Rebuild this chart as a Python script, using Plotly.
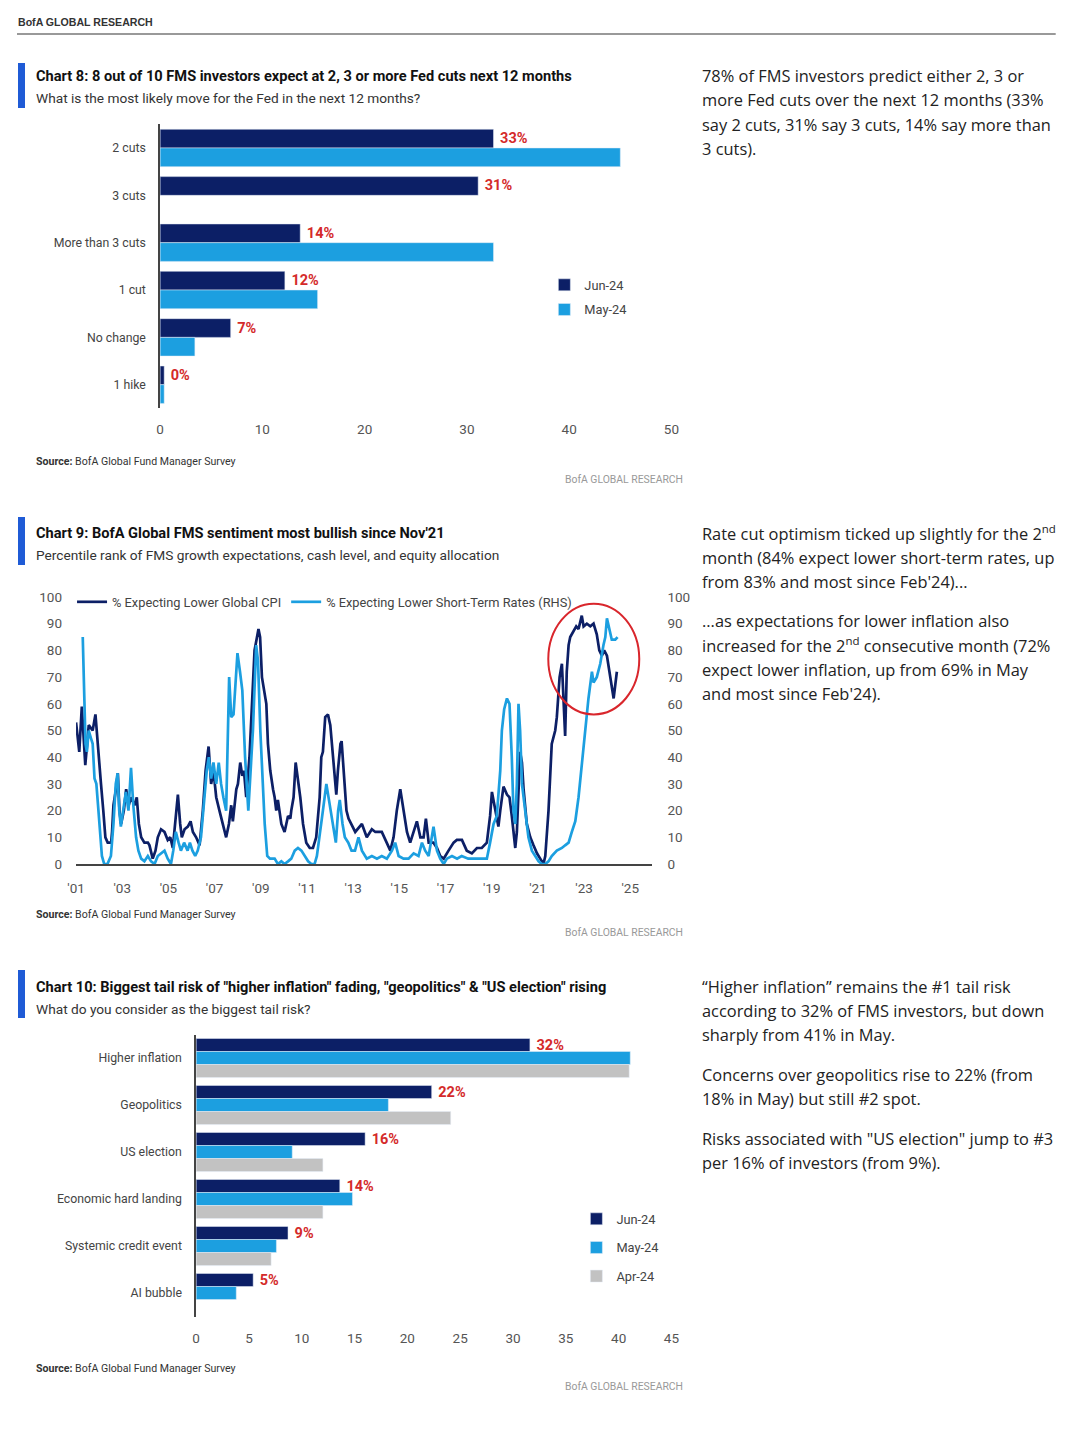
import plotly.graph_objects as go

W, H = 1080, 1455
# the returned picture shows the page inside a thin frame; positions below are given in
# reference-picture pixels and mapped to paper fractions
SX, OX, SY, OY = 0.9836, 9.0, 0.989, 8.0
def px(x): return ((x - OX) / SX) / W
def py(y): return 1 - ((y - OY) / SY) / H

NAVY = "#0c1f66"
CYAN = "#1c9fe0"
GREY = "#c2c2c2"
RED = "#d42a2a"
ACCENT = "#1f5bd6"
NARROW = "Roboto, sans-serif"
BODY = "Open Sans, Noto Sans, sans-serif"

# ---------------- Chart 8 data ----------------
fed_cats = ["2 cuts", "3 cuts", "More than 3 cuts", "1 cut", "No change", "1 hike"]
fed_jun = [32.6, 31.1, 13.7, 12.2, 6.9, 0.4]
fed_may = [45.0, None, 32.6, 15.4, 3.4, 0.4]
fed_labels = ["33%", "31%", "14%", "12%", "7%", "0%"]
fed_ticks = [0, 10, 20, 30, 40, 50]

# ---------------- Chart 9 data ----------------
cpi_year = [2001.00, 2001.14, 2001.25, 2001.40, 2001.55, 2001.72, 2001.84, 2001.97, 2002.08, 2002.18,
            2002.27, 2002.37, 2002.52, 2002.56, 2002.62, 2002.73, 2002.81, 2002.88, 2002.95, 2003.07,
            2003.17, 2003.28, 2003.38, 2003.53, 2003.63, 2003.72, 2003.82, 2003.96, 2004.11, 2004.18,
            2004.32, 2004.44, 2004.54, 2004.68, 2004.83, 2004.97, 2005.08, 2005.19, 2005.26, 2005.41,
            2005.51, 2005.58, 2005.70, 2005.84, 2005.96, 2006.06, 2006.20, 2006.35, 2006.49, 2006.61,
            2006.74, 2006.85, 2006.95, 2007.07, 2007.21, 2007.36, 2007.50, 2007.62, 2007.72, 2007.79,
            2007.94, 2008.01, 2008.11, 2008.20, 2008.27, 2008.37, 2008.51, 2008.62, 2008.73, 2008.90,
            2008.97, 2009.05, 2009.16, 2009.24, 2009.31, 2009.41, 2009.53, 2009.60, 2009.67, 2009.74,
            2009.89, 2010.03, 2010.18, 2010.28, 2010.32, 2010.42, 2010.51, 2010.61, 2010.71, 2010.83,
            2010.97, 2011.12, 2011.26, 2011.40, 2011.48, 2011.55, 2011.62, 2011.69, 2011.79, 2011.91,
            2012.01, 2012.13, 2012.21, 2012.27, 2012.34, 2012.45, 2012.50, 2012.59, 2012.71, 2012.80,
            2012.92, 2013.09, 2013.38, 2013.59, 2013.81, 2013.96, 2014.24, 2014.46, 2014.61, 2014.75,
            2014.89, 2015.04, 2015.18, 2015.33, 2015.47, 2015.62, 2015.76, 2015.91, 2016.05, 2016.15,
            2016.27, 2016.48, 2016.63, 2016.77, 2016.92, 2017.13, 2017.35, 2017.49, 2017.71, 2017.92,
            2018.14, 2018.36, 2018.57, 2018.79, 2018.93, 2019.01, 2019.11, 2019.22, 2019.29, 2019.37,
            2019.51, 2019.66, 2019.77, 2019.87, 2020.02, 2020.09, 2020.16, 2020.23, 2020.31, 2020.38,
            2020.52, 2020.67, 2020.81, 2020.96, 2021.10, 2021.24, 2021.32, 2021.46, 2021.60, 2021.75,
            2021.82, 2021.94, 2022.04, 2022.11, 2022.18, 2022.25, 2022.33, 2022.40, 2022.54, 2022.66,
            2022.76, 2022.90, 2022.98, 2023.12, 2023.27, 2023.41, 2023.55, 2023.66, 2023.77, 2023.87,
            2023.99, 2024.13, 2024.28, 2024.42]
cpi_val = [53, 42, 59, 37, 52, 50, 56, 40, 30, 20,
           10, 8, 8, 12, 22, 28, 34, 20, 15, 20,
           28, 22, 25, 22, 25, 15, 10, 8, 8, 7,
           2, 5, 10, 13, 12, 9, 10, 6, 12, 26,
           15, 10, 13, 14, 16, 12, 10, 7, 20, 35,
           44, 30, 35, 25, 20, 15, 10, 15, 22, 16,
           28, 30, 38, 33, 35, 25, 40, 60, 80, 88,
           85, 70, 65, 60, 45, 35, 28, 25, 20, 24,
           15, 12, 18, 17, 20, 25, 38, 32, 25, 15,
           8, 6, 6, 10, 20, 25, 40, 42, 55, 56,
           52, 40, 30, 26, 35, 45, 46, 35, 20, 17,
           15, 12, 15, 10, 13, 12, 12, 8, 5, 10,
           20, 28, 20, 12, 8, 12, 16, 10, 10, 17,
           8, 8, 6, 3, 2, 5, 8, 9, 9, 5,
           4, 6, 6, 8, 18, 27, 22, 16, 14, 20,
           29, 26, 25, 18, 6, 12, 25, 42, 38, 28,
           15, 10, 7, 4, 2, 0, 3, 20, 45, 50,
           55, 70, 75, 60, 48, 72, 82, 85, 87, 89,
           88, 93, 89, 90, 89, 90, 86, 80, 78, 80,
           78, 70, 62, 72]

rates_year = [2001.29, 2001.35, 2001.41, 2001.47, 2001.55, 2001.65, 2001.72, 2001.80, 2001.88, 2001.97,
              2002.04, 2002.12, 2002.22, 2002.36, 2002.51, 2002.62, 2002.72, 2002.80, 2002.87, 2002.94,
              2003.04, 2003.16, 2003.27, 2003.38, 2003.48, 2003.60, 2003.70, 2003.82, 2003.96, 2004.11,
              2004.25, 2004.40, 2004.54, 2004.68, 2004.83, 2004.97, 2005.11, 2005.21, 2005.32, 2005.44,
              2005.54, 2005.68, 2005.83, 2005.93, 2006.04, 2006.16, 2006.27, 2006.41, 2006.56, 2006.66,
              2006.75, 2006.85, 2006.95, 2007.07, 2007.18, 2007.28, 2007.38, 2007.50, 2007.63, 2007.72,
              2007.82, 2007.90, 2007.99, 2008.10, 2008.20, 2008.32, 2008.46, 2008.56, 2008.66, 2008.80,
              2008.88, 2008.98, 2009.08, 2009.17, 2009.28, 2009.40, 2009.60, 2009.74, 2009.89, 2010.03,
              2010.18, 2010.32, 2010.47, 2010.61, 2010.76, 2010.90, 2011.05, 2011.19, 2011.33, 2011.43,
              2011.55, 2011.69, 2011.84, 2011.99, 2012.13, 2012.25, 2012.35, 2012.42, 2012.54, 2012.64,
              2012.79, 2012.93, 2013.08, 2013.23, 2013.38, 2013.59, 2013.81, 2014.03, 2014.24, 2014.46,
              2014.68, 2014.82, 2014.97, 2015.18, 2015.40, 2015.62, 2015.83, 2015.98, 2016.12, 2016.27,
              2016.48, 2016.63, 2016.77, 2016.92, 2017.06, 2017.28, 2017.50, 2017.70, 2017.98, 2018.40,
              2018.79, 2018.93, 2019.08, 2019.22, 2019.37, 2019.44, 2019.54, 2019.66, 2019.77, 2019.87,
              2019.94, 2020.02, 2020.09, 2020.16, 2020.23, 2020.31, 2020.45, 2020.59, 2020.74, 2020.88,
              2021.03, 2021.17, 2021.32, 2021.46, 2021.60, 2021.82, 2022.04, 2022.18, 2022.33, 2022.47,
              2022.62, 2022.76, 2022.90, 2023.05, 2023.19, 2023.34, 2023.41, 2023.55, 2023.70, 2023.84,
              2023.92, 2023.99, 2024.10, 2024.20, 2024.35, 2024.45]
rates_val = [85, 60, 45, 42, 50, 47, 45, 32, 30, 20,
             10, 3, 0, 0, 3, 15, 30, 34, 20, 14,
             20, 27, 20, 36, 22, 10, 5, 2, 1, 3,
             1, 0, 3, 4, 5, 2, 0, 5, 12, 8,
             5, 8, 5, 8, 5, 3, 5, 10, 25, 35,
             40, 32, 38, 30, 38, 30, 25, 20, 70, 55,
             56, 68, 79, 72, 65, 40, 20, 35, 50, 82,
             76, 50, 30, 15, 3, 2, 2, 0, 1, 0,
             1, 2, 5, 6, 5, 3, 1, 0, 0, 3,
             10, 20, 30, 22, 15, 8, 20, 24, 15, 10,
             8, 5, 5, 10, 5, 2, 3, 2, 3, 2,
             5, 8, 3, 2, 2, 4, 3, 8, 5, 3,
             14, 5, 2, 0, 2, 3, 2, 3, 2, 2,
             2, 8, 15, 18, 35, 50, 58, 62, 60, 40,
             20, 15, 30, 60, 50, 30, 20, 10, 5, 3,
             1, 0, 0, 1, 3, 5, 6, 7, 8, 12,
             16, 25, 38, 50, 62, 72, 68, 70, 75, 82,
             85, 92, 88, 84, 84, 85]
year_ticks = [2001, 2003, 2005, 2007, 2009, 2011, 2013, 2015, 2017, 2019, 2021, 2023, 2025]
year_labels = ["'01", "'03", "'05", "'07", "'09", "'11", "'13", "'15", "'17", "'19", "'21", "'23", "'25"]
pct_ticks = [0, 10, 20, 30, 40, 50, 60, 70, 80, 90, 100]

# ---------------- Chart 10 data ----------------
risk_cats = ["Higher inflation", "Geopolitics", "US election", "Economic hard landing",
             "Systemic credit event", "AI bubble"]
risk_jun = [31.6, 22.3, 16.0, 13.6, 8.7, 5.4]
risk_may = [41.1, 18.2, 9.1, 14.8, 7.6, 3.8]
risk_apr = [41.0, 24.1, 12.0, 12.0, 7.1, None]
risk_labels = ["32%", "22%", "16%", "14%", "9%", "5%"]
risk_ticks = [0, 5, 10, 15, 20, 25, 30, 35, 40, 45]

fig = go.Figure()

lblfont = dict(color=RED, size=14.5, family=NARROW)

# Chart 8 bars
fig.add_trace(go.Bar(y=fed_cats, x=fed_jun, orientation="h", name="Jun-24", marker_color=NAVY,
                     width=0.395, offset=-0.395, text=fed_labels, textposition="outside",
                     textfont=lblfont, cliponaxis=False,
                     constraintext="none", texttemplate="\u00a0<b>%{text}</b>",
                     xaxis="x", yaxis="y", legend="legend", legendgroup="a"))
fig.add_trace(go.Bar(y=fed_cats, x=fed_may, orientation="h", name="May-24", marker_color=CYAN,
                     width=0.395, offset=0.0, xaxis="x", yaxis="y", legend="legend", legendgroup="b"))

# Chart 9 lines
fig.add_trace(go.Scatter(x=cpi_year, y=cpi_val, mode="lines", name="% Expecting Lower Global CPI",
                         line=dict(color=NAVY, width=2.7), xaxis="x2", yaxis="y2", legend="legend2"))
fig.add_trace(go.Scatter(x=rates_year, y=rates_val, mode="lines",
                         name="% Expecting Lower Short-Term Rates (RHS)",
                         line=dict(color=CYAN, width=2.7), xaxis="x2", yaxis="y3", legend="legend2"))

# Chart 10 bars
fig.add_trace(go.Bar(y=risk_cats, x=risk_jun, orientation="h", name="Jun-24", marker_color=NAVY,
                     width=0.277, offset=-0.415, text=risk_labels, textposition="outside",
                     textfont=lblfont, cliponaxis=False,
                     constraintext="none", texttemplate="\u00a0<b>%{text}</b>",
                     xaxis="x3", yaxis="y4", legend="legend3", legendgroup="c"))
fig.add_trace(go.Bar(y=risk_cats, x=risk_may, orientation="h", name="May-24", marker_color=CYAN,
                     width=0.277, offset=-0.138, xaxis="x3", yaxis="y4", legend="legend3", legendgroup="d"))
fig.add_trace(go.Bar(y=risk_cats, x=risk_apr, orientation="h", name="Apr-24", marker_color=GREY,
                     width=0.277, offset=0.139, xaxis="x3", yaxis="y4", legend="legend3", legendgroup="e"))

tickfont = dict(family=NARROW, size=13.5, color="#555")
catfont = dict(family=NARROW, size=12.3, color="#444")
legfont = dict(family=NARROW, size=12.8, color="#444")

fig.update_layout(
    width=W, height=H, margin=dict(l=0, r=0, t=0, b=0),
    paper_bgcolor="white", plot_bgcolor="white", showlegend=True,
    # chart 8
    xaxis=dict(domain=[px(160), px(671)], range=[0, 50], tickvals=fed_ticks, showgrid=False,
               zeroline=False, showline=False, ticks="", tickfont=tickfont, ticklabelstandoff=11,
               anchor="y", fixedrange=True),
    yaxis=dict(domain=[py(408.4), py(124.3)], autorange="reversed", type="category", showgrid=False,
               zeroline=False, showline=True, linecolor="#444", linewidth=1.5, ticks="",
               tickfont=catfont, ticklabelstandoff=10, anchor="x"),
    # chart 9
    xaxis2=dict(domain=[px(76), px(652)], range=[2001, 2025.96], tickvals=year_ticks,
                ticktext=year_labels, showgrid=False, zeroline=False, showline=True,
                linecolor="#444", linewidth=1.5, ticks="", tickfont=tickfont,
                ticklabelstandoff=11, anchor="y2"),
    yaxis2=dict(domain=[py(864), py(597)], range=[0, 100], tickvals=pct_ticks, showgrid=False,
                zeroline=False, showline=False, ticks="", tickfont=tickfont,
                ticklabelstandoff=13, anchor="x2"),
    yaxis3=dict(overlaying="y2", side="right", range=[0, 100], tickvals=pct_ticks, showgrid=False,
                zeroline=False, showline=False, ticks="", tickfont=tickfont,
                ticklabelstandoff=14, anchor="x2"),
    # chart 10
    xaxis3=dict(domain=[px(196), px(671)], range=[0, 45], tickvals=risk_ticks, showgrid=False,
                zeroline=False, showline=False, ticks="", tickfont=tickfont, ticklabelstandoff=12,
                anchor="y4"),
    yaxis4=dict(domain=[py(1316.5), py(1034.5)], autorange="reversed", type="category",
                showgrid=False, zeroline=False, showline=True, linecolor="#444", linewidth=1.5,
                ticks="", tickfont=catfont, ticklabelstandoff=10, anchor="x3"),
    legend=dict(x=px(544), y=py(270), xanchor="left", yanchor="top", bgcolor="rgba(0,0,0,0)",
                font=legfont, itemwidth=30, tracegroupgap=5, traceorder="grouped"),
    legend2=dict(x=px(72), y=py(587), xanchor="left", yanchor="top", orientation="h",
                 bgcolor="rgba(0,0,0,0)", font=legfont, itemwidth=30, traceorder="normal"),
    legend3=dict(x=px(576), y=py(1204), xanchor="left", yanchor="top", bgcolor="rgba(0,0,0,0)",
                 font=legfont, itemwidth=30, tracegroupgap=9, traceorder="grouped"),
)

shapes = []
annotations = []

def text(x, y, s, size, color="#222", family=NARROW, xanchor="left"):
    annotations.append(dict(x=px(x), y=py(y), xref="paper", yref="paper", text=s, showarrow=False,
                            xanchor=xanchor, yanchor="middle", align="left", borderpad=0,
                            font=dict(size=size, color=color, family=family)))

# header
text(17, 22, "<b>BofA GLOBAL RESEARCH</b>", 10.6, "#333", "Liberation Sans, Arial, sans-serif")
shapes.append(dict(type="line", xref="paper", yref="paper", x0=px(17), x1=px(1055), y0=py(34), y1=py(34),
                   line=dict(color="#777", width=1.5)))

# chart headers
blocks = [
    (63, 108, 76, 98, "<b>Chart 8: 8 out of 10 FMS investors expect at 2, 3 or more Fed cuts next 12 months</b>",
     "What is the most likely move for the Fed in the next 12 months?", 461, 479),
    (517, 565, 533, 555, "<b>Chart 9: BofA Global FMS sentiment most bullish since Nov'21</b>",
     "Percentile rank of FMS growth expectations, cash level, and equity allocation", 914, 932),
    (970, 1018, 987, 1009,
     "<b>Chart 10: Biggest tail risk of \"higher inflation\" fading, \"geopolitics\" &amp; \"US election\" rising</b>",
     "What do you consider as the biggest tail risk?", 1368, 1386),
]
for y0, y1, ty, sy, title, sub, srcy, bgy in blocks:
    shapes.append(dict(type="rect", xref="paper", yref="paper", x0=px(18), x1=px(25), y0=py(y1), y1=py(y0),
                       fillcolor=ACCENT, line=dict(width=0)))
    text(35, ty, title, 14.6, "#111")
    text(35, sy, sub, 13.7, "#333")
    text(35, srcy, "<b>Source:</b> BofA Global Fund Manager Survey", 10.6, "#333")
    text(684, bgy, "BofA GLOBAL RESEARCH", 10.4, "#999", xanchor="right")

# red circle on chart 9
shapes.append(dict(type="circle", xref="x2", yref="y2", x0=2021.45, x1=2025.39, y0=56.0, y1=97.5,
                   line=dict(color="#d9262c", width=2)))

# right-hand commentary
comments = [
    (75, "78% of FMS investors predict either 2, 3 or"),
    (99, "more Fed cuts over the next 12 months (33%"),
    (124, "say 2 cuts, 31% say 3 cuts, 14% say more than"),
    (148, "3 cuts)."),
    (533, "Rate cut optimism ticked up slightly for the 2<sup>nd</sup>"),
    (557, "month (84% expect lower short-term rates, up"),
    (581, "from 83% and most since Feb'24)..."),
    (620, "...as expectations for lower inflation also"),
    (645, "increased for the 2<sup>nd</sup> consecutive month (72%"),
    (669, "expect lower inflation, up from 69% in May"),
    (693, "and most since Feb'24)."),
    (986, "“Higher inflation” remains the #1 tail risk"),
    (1010, "according to 32% of FMS investors, but down"),
    (1034, "sharply from 41% in May."),
    (1074, "Concerns over geopolitics rise to 22% (from"),
    (1098, "18% in May) but still #2 spot."),
    (1138, "Risks associated with \"US election\" jump to #3"),
    (1162, "per 16% of investors (from 9%)."),
]
for y, s in comments:
    text(701, y, s, 16.4, "#222", BODY)

fig.update_layout(shapes=shapes, annotations=annotations)
fig.write_html("out.html", config={"displayModeBar": False},
               post_script="document.body.style.margin='0';document.body.style.overflow='hidden';")
